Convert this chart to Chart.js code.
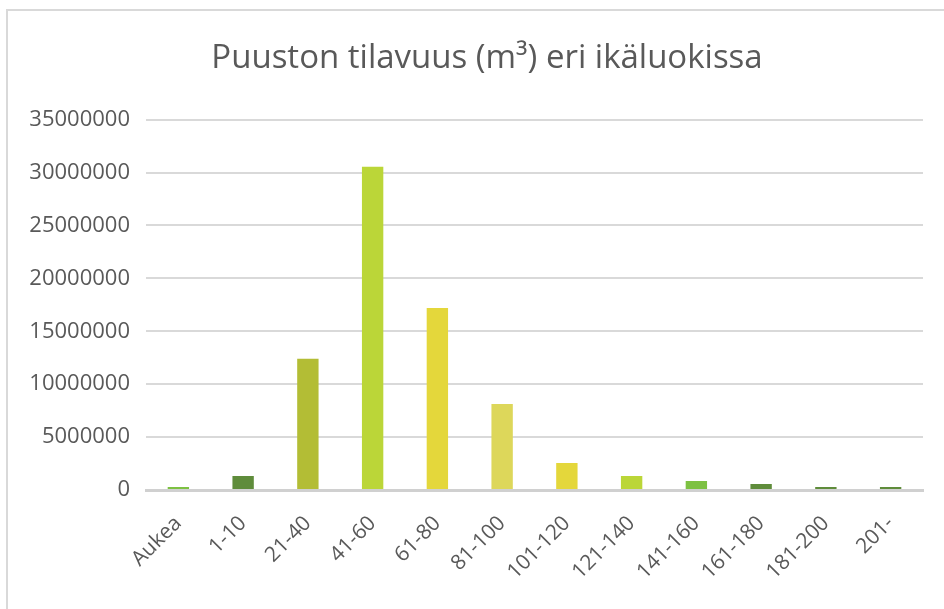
<!DOCTYPE html>
<html>
<head>
<meta charset="utf-8">
<script src="https://cdn.jsdelivr.net/npm/chart.js@4"></script>
<style>
  html, body { margin: 0; padding: 0; background: #fff; overflow: hidden; }
  #wrap { position: relative; width: 944px; height: 609px; }
  #frame { position: absolute; left: 6px; top: 9px; width: 1000px; height: 700px; border: 2px solid #d9d9d9; box-sizing: border-box; pointer-events: none; }
  canvas { position: absolute; left: 0; top: 0; }
</style>
</head>
<body>
<div id="wrap">
  <canvas id="c" width="944" height="609"></canvas>
  <div id="frame"></div>
</div>
<script>
const categories = ["Aukea", "1-10", "21-40", "41-60", "61-80", "81-100", "101-120", "121-140", "141-160", "161-180", "181-200", "201-"];
const volumes = [280000, 1320000, 12400000, 30550000, 17200000, 8130000, 2550000, 1320000, 850000, 570000, 280000, 280000];
const barColors = ["#7DC142", "#5F8C3B", "#B3BD35", "#BBD638", "#E4D73B", "#DDD75A", "#E4D73B", "#BBD638", "#7DC142", "#5F8C3B", "#5F8C3B", "#5F8C3B"];
const yTicks = [0, 5000000, 10000000, 15000000, 20000000, 25000000, 30000000, 35000000];
const titleText = "Puuston tilavuus (m³) eri ikäluokissa";

const FONT = "'Open Sans', 'Noto Sans', sans-serif";
const TXT = "#595959";

new Chart(document.getElementById('c'), {
  type: 'bar',
  data: {
    labels: categories,
    datasets: [{
      data: volumes,
      backgroundColor: barColors,
      borderWidth: 0,
      barPercentage: 0.66,
      categoryPercentage: 0.5
    }]
  },
  options: {
    responsive: false,
    animation: false,
    layout: { padding: { left: 51, right: 21, top: 0, bottom: 0 } },
    plugins: {
      legend: { display: false },
      tooltip: { enabled: false },
      title: {
        display: true,
        text: titleText,
        color: TXT,
        font: { family: FONT, size: 33, weight: 'normal', lineHeight: 1.2 },
        padding: { top: 39, bottom: 41 }
      }
    },
    scales: {
      x: {
        grid: { display: false, drawTicks: false },
        border: { display: true, color: '#d0d0d0', width: 3 },
        ticks: {
          color: TXT,
          font: { family: FONT, size: 21 },
          maxRotation: 45, minRotation: 45,
          padding: 21,
          autoSkip: false
        },
        afterFit: (s) => { s.height = 119; s._computeLabelArea = () => undefined; }
      },
      y: {
        min: 0, max: 35000000,
        afterBuildTicks: (s) => { s.ticks = yTicks.map(v => ({ value: v })); },
        grid: { color: '#d9d9d9', lineWidth: 2, drawTicks: false },
        border: { display: false },
        ticks: {
          color: TXT,
          font: { family: FONT, size: 22 },
          padding: 16,
          callback: (v) => String(v)
        },
        afterFit: (s) => { s.width = 95; s._computeLabelArea = () => undefined; }
      }
    }
  }
});
</script>
</body>
</html>
